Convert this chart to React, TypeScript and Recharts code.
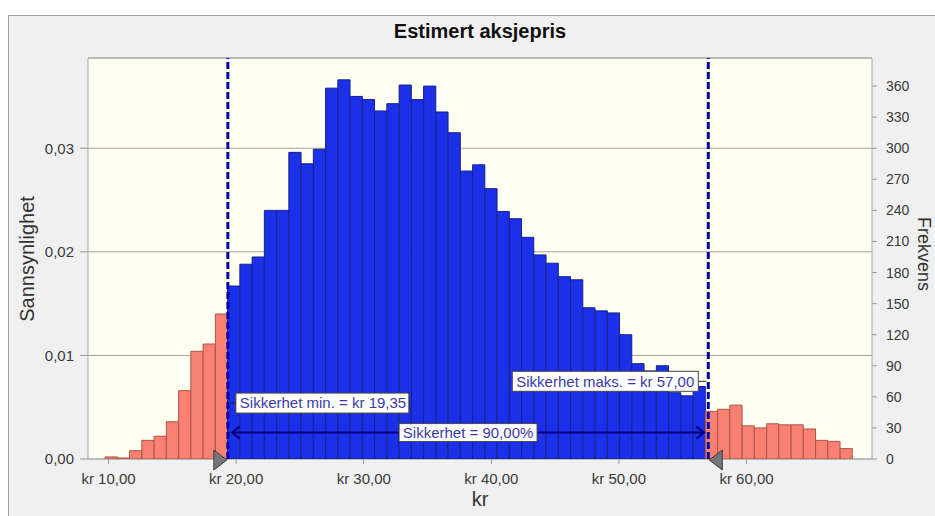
import {
  ComposedChart,
  Bar,
  Cell,
  XAxis,
  YAxis,
  CartesianGrid,
  ReferenceLine,
  ReferenceArea,
  ReferenceDot,
} from 'recharts';

const FONT = '"Liberation Sans", Arial, Helvetica, sans-serif';

// 10 000 trials, histogram bins of ~0.96 kr starting at kr 9,73
const TRIALS = 10000;
const BIN_START = 9.73;
const BIN_WIDTH = 0.96;

// frequency per bin, split by the certainty range
const LEFT_TAIL = [2, 1, 8, 18, 22, 36, 66, 104, 111, 140];
const CERTAIN = [
  167, 188, 195, 240, 240, 296, 285, 299, 358, 366, 350, 347, 336, 343, 361, 347, 360, 335, 315, 278,
  284, 261, 239, 232, 214, 197, 189, 176, 173, 146, 143, 141, 120, 92, 85, 90, 64, 61, 70,
];
const RIGHT_TAIL = [46, 48, 52, 32, 30, 34, 33, 33, 29, 18, 17, 10];

const CERT_MIN = 19.35;
const CERT_MAX = 57.0;
const CERT_PCT = 90.0;

const X_TICKS = [10, 20, 30, 40, 50, 60];
const P_TICKS = [0, 0.01, 0.02, 0.03];
const N_TICKS = [0, 30, 60, 90, 120, 150, 180, 210, 240, 270, 300, 330, 360];
const X_DOMAIN: [number, number] = [8.39, 69.83];
const N_MAX = 387.1;

const BLUE = '#1b30e8';
const BLUE_EDGE = '#17228a';
const RED = '#fa8072';
const RED_EDGE = '#a8554c';
const NAVY = '#0000a8';
const LABEL_TEXT = '#3a3aa8';

const counts = [...LEFT_TAIL, ...CERTAIN, ...RIGHT_TAIL];
const data = counts.map((n, i) => ({
  x: BIN_START + BIN_WIDTH * (i + 0.5),
  n,
  inside: i >= LEFT_TAIL.length && i < LEFT_TAIL.length + CERTAIN.length,
}));

const fmt = (v: number) => v.toFixed(2).replace('.', ',');

function MinLabel({ cx, cy }: { cx?: number; cy?: number }) {
  if (cx == null || cy == null) return null;
  return (
    <g>
      <line x1={cx + 2} y1={cy} x2={cx + 8} y2={cy} stroke="#222" />
      <rect x={cx + 8} y={cy - 10} width={173} height={20} fill="#fff" stroke="#444" />
      <text x={cx + 12} y={cy} dy="0.35em" fontSize={15} fill={LABEL_TEXT} fontFamily={FONT}>
        {`Sikkerhet min. = kr ${fmt(CERT_MIN)}`}
      </text>
    </g>
  );
}

function MaxLabel({ cx, cy }: { cx?: number; cy?: number }) {
  if (cx == null || cy == null) return null;
  return (
    <g>
      <line x1={cx - 10} y1={cy} x2={cx - 2} y2={cy} stroke="#222" />
      <rect x={cx - 196} y={cy - 10} width={186} height={20} fill="#fff" stroke="#444" />
      <text x={cx - 192} y={cy} dy="0.35em" fontSize={15} fill={LABEL_TEXT} fontFamily={FONT}>
        {`Sikkerhet maks. = kr ${fmt(CERT_MAX)}`}
      </text>
    </g>
  );
}

function CertLabel({ cx, cy }: { cx?: number; cy?: number }) {
  if (cx == null || cy == null) return null;
  return (
    <g>
      <rect x={cx - 69} y={cy - 9} width={138} height={18} fill="#fff" stroke="#444" />
      <text x={cx} y={cy} dy="0.35em" textAnchor="middle" fontSize={15} fill={LABEL_TEXT} fontFamily={FONT}>
        {`Sikkerhet = ${fmt(CERT_PCT)}%`}
      </text>
    </g>
  );
}

function ArrowShape(props: { x1?: number; y1?: number; x2?: number; y2?: number }) {
  const { x1, y1, x2, y2 } = props;
  if (x1 == null || y1 == null || x2 == null || y2 == null) return <g />;
  const a = x1 + 4;
  const b = x2 - 4;
  return (
    <g>
      <line x1={a} y1={y1} x2={b} y2={y2} stroke="#000080" strokeWidth={2} />
      <polyline points={`${a + 8},${y1 - 6} ${a},${y1} ${a + 8},${y1 + 6}`} fill="none" stroke="#000080" strokeWidth={2} />
      <polyline points={`${b - 8},${y2 - 6} ${b},${y2} ${b - 8},${y2 + 6}`} fill="none" stroke="#000080" strokeWidth={2} />
    </g>
  );
}

function GrabLeft({ cx, cy }: { cx?: number; cy?: number }) {
  if (cx == null || cy == null) return null;
  return <polygon points={`${cx - 1},${cy + 1} ${cx - 14},${cy - 9} ${cx - 14},${cy + 11}`} fill="#777" stroke="#3a3a3a" />;
}

function GrabRight({ cx, cy }: { cx?: number; cy?: number }) {
  if (cx == null || cy == null) return null;
  return <polygon points={`${cx + 1},${cy + 1} ${cx + 14},${cy - 9} ${cx + 14},${cy + 11}`} fill="#777" stroke="#3a3a3a" />;
}

const rotated = (x: number, y: number, deg: number): React.CSSProperties => ({
  position: 'absolute',
  left: x,
  top: y,
  transform: `translate(-50%, -50%) rotate(${deg}deg)`,
  whiteSpace: 'nowrap',
  lineHeight: 1,
});

export default function App() {
  return (
    <div
      style={{
        position: 'absolute',
        left: 0,
        top: 0,
        width: 935,
        height: 516,
        background: '#fff',
        overflow: 'hidden',
        fontFamily: FONT,
        color: '#222',
      }}
    >
      <div
        style={{
          position: 'absolute',
          left: 8,
          top: 15,
          width: 940,
          height: 510,
          background: '#f0f0f0',
          borderLeft: '1px solid #a0a0a0',
          borderTop: '1px solid #a0a0a0',
        }}
      />
      <div style={{ ...rotated(480, 31, 0), fontSize: 20, fontWeight: 'bold', color: '#111' }}>Estimert aksjepris</div>
      <div style={{ ...rotated(27, 259, -90), fontSize: 20, color: '#333' }}>Sannsynlighet</div>
      <div style={{ ...rotated(924, 254, 90), fontSize: 18, color: '#333' }}>Frekvens</div>
      <div style={{ ...rotated(480, 499, 0), fontSize: 20, color: '#333' }}>kr</div>

      <div style={{ position: 'absolute', left: 0, top: 0 }}>
        <ComposedChart
          width={935}
          height={516}
          data={data}
          margin={{ top: 58, right: 0, bottom: 27, left: 0 }}
          barCategoryGap={0}
          barGap={0}
        >
          <CartesianGrid yAxisId="p" vertical={false} stroke="#a0a0a0" fill="#fffff2" fillOpacity={1} />
          <XAxis
            dataKey="x"
            type="number"
            domain={X_DOMAIN}
            allowDataOverflow
            ticks={X_TICKS}
            interval={0}
            tickFormatter={(v: number) => `kr ${v},00`}
            height={30}
            tickSize={5}
            tickMargin={9}
            axisLine={false}
            tickLine={{ stroke: '#999' }}
            tick={{ fontSize: 15, fill: '#3a3a3a' }}
          />
          <YAxis
            yAxisId="p"
            width={88}
            domain={[0, N_MAX / TRIALS]}
            allowDataOverflow
            ticks={P_TICKS}
            interval={0}
            tickFormatter={(v: number) => fmt(v)}
            tickSize={8}
            tickMargin={6}
            axisLine={false}
            tickLine={{ stroke: '#999' }}
            tick={{ fontSize: 15, fill: '#3a3a3a' }}
          />
          <YAxis
            yAxisId="n"
            orientation="right"
            width={63}
            domain={[0, N_MAX]}
            allowDataOverflow
            ticks={N_TICKS}
            interval={0}
            tickSize={5}
            tickMargin={9}
            axisLine={false}
            tickLine={{ stroke: '#999' }}
            tick={{ fontSize: 14, fill: '#3a3a3a' }}
          />
          <ReferenceArea
            yAxisId="n"
            x1={X_DOMAIN[0]}
            x2={X_DOMAIN[1]}
            y1={0}
            y2={N_MAX}
            fill="#fff"
            fillOpacity={0}
            stroke="#a8a8a8"
          />
          <Bar dataKey="n" yAxisId="n" barSize={12.2} isAnimationActive={false}>
            {data.map((d, i) => (
              <Cell key={i} fill={d.inside ? BLUE : RED} stroke={d.inside ? BLUE_EDGE : RED_EDGE} strokeWidth={1} />
            ))}
          </Bar>
          <ReferenceLine yAxisId="n" x={CERT_MIN} stroke={NAVY} strokeWidth={3} strokeDasharray="7 3" />
          <ReferenceLine yAxisId="n" x={CERT_MAX} stroke={NAVY} strokeWidth={3} strokeDasharray="7 3" />
          <ReferenceLine
            yAxisId="n"
            segment={[
              { x: CERT_MIN, y: 25.5 },
              { x: CERT_MAX, y: 25.5 },
            ]}
            shape={ArrowShape}
          />
          <ReferenceDot yAxisId="n" x={(CERT_MIN + CERT_MAX) / 2} y={25.5} shape={CertLabel} />
          <ReferenceDot yAxisId="n" x={CERT_MIN} y={54} shape={MinLabel} />
          <ReferenceDot yAxisId="n" x={CERT_MAX} y={75} shape={MaxLabel} />
          <ReferenceDot yAxisId="n" x={CERT_MIN} y={0} shape={GrabLeft} />
          <ReferenceDot yAxisId="n" x={CERT_MAX} y={0} shape={GrabRight} />
        </ComposedChart>
      </div>
    </div>
  );
}
